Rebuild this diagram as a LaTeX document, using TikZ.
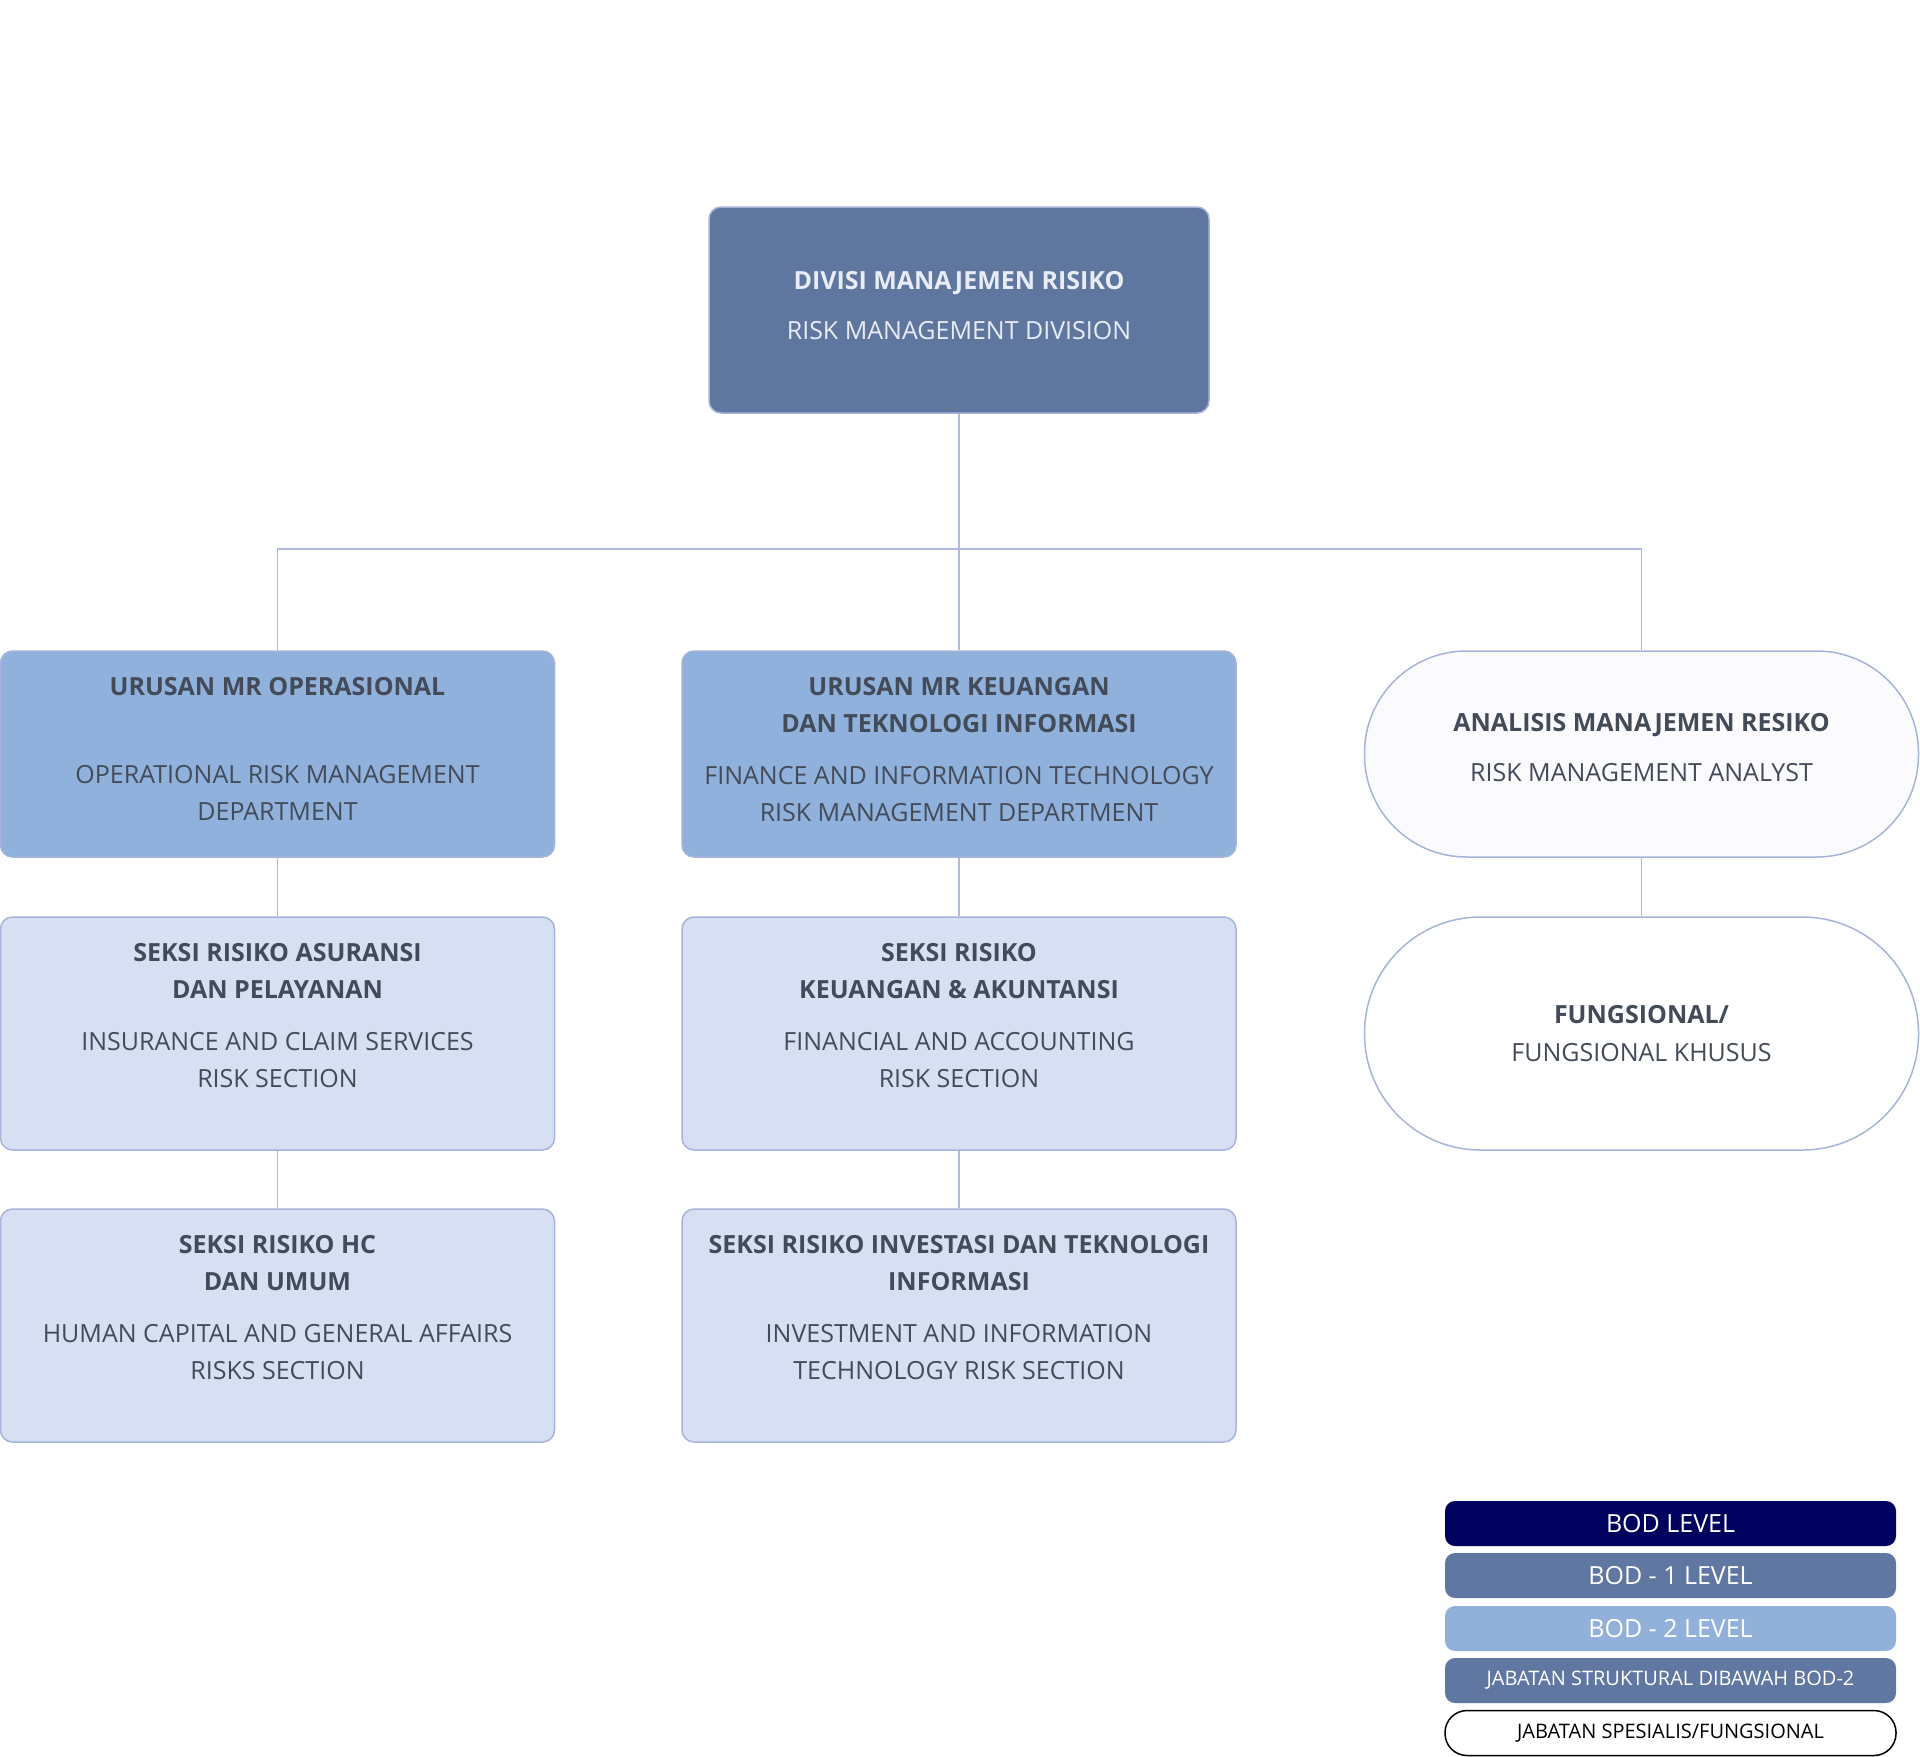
\documentclass[tikz,border=0pt]{standalone}
\usepackage{fontspec}
\setmainfont{Open Sans}
\usepackage{xcolor}
\usetikzlibrary{positioning,calc}

\definecolor{divfill}{HTML}{5F769F}
\definecolor{divtext}{HTML}{E8ECF6}
\definecolor{deptfill}{HTML}{8FB1DB}
\definecolor{secfill}{HTML}{D7E0F2}
\definecolor{pillfill}{HTML}{FBFBFD}
\definecolor{boxline}{HTML}{A7B4DA}
\definecolor{linkc}{HTML}{AEB8E0}
\definecolor{txtgray}{HTML}{434B59}
\definecolor{bodnavy}{HTML}{00005E}
\definecolor{bodone}{HTML}{6077A2}
\definecolor{bodtwo}{HTML}{91B1DB}

\tikzset{
    box/.style={draw=boxline, line width=0.75pt, rounded corners=6pt, inner sep=0pt},
    divbox/.style={box, fill=divfill, minimum width=250pt, minimum height=103pt},
    deptbox/.style={box, fill=deptfill, minimum width=277pt, minimum height=103pt},
    secbox/.style={box, fill=secfill, minimum width=277pt, minimum height=116.5pt},
    fnpill/.style={box, fill=pillfill, minimum width=277pt, minimum height=103pt, rounded corners=51pt},
    fnpillbig/.style={box, fill=white, minimum width=277pt, minimum height=116.5pt, rounded corners=58pt},
    txt/.style={align=center, inner sep=0pt, text=txtgray, font=\fontsize{12.5}{18.5}\selectfont},
    link/.style={draw=linkc, line width=0.75pt},
    legbar/.style={rounded corners=5pt, minimum width=225.5pt, minimum height=22.5pt, inner sep=0pt, text=white},
    legbig/.style={legbar, font=\fontsize{12.5}{15}\selectfont},
    legsmall/.style={legbar, font=\fontsize{10}{12}\selectfont}
}

\begin{document}
\begin{tikzpicture}[x=0.5pt, y=-0.5pt]
    \useasboundingbox (0,0) rectangle (1920,1756);

    % boxes
    \node[divbox] (div) at (959,310) {};
    \node[deptbox] (ops) at (277.5,754) {};
    \node[deptbox] (ktl) at (959,754) {};
    \node[fnpill] (anl) at (1641.5,754) {};
    \node[secbox] (asr) at (277.5,1033.5) {};
    \node[secbox] (kak) at (959,1033.5) {};
    \node[fnpillbig, txt] (fng) at (1641.5,1033.5) {\textbf{FUNGSIONAL/}\\[0.5pt]FUNGSIONAL KHUSUS};
    \node[secbox] (hcu) at (277.5,1325.5) {};
    \node[secbox] (iti) at (959,1325.5) {};

    % texts
    \node[txt, text=divtext, below=32.5pt of div.north] (divT) {\textbf{DIVISI MANAJEMEN RISIKO}\\[6.5pt]RISK MANAGEMENT DIVISION};
    \node[txt, below=13.5pt of ops.north] (opsT) {\textbf{URUSAN MR OPERASIONAL}\\[25.5pt]OPERATIONAL RISK MANAGEMENT\\DEPARTMENT};
    \node[txt, below=13.5pt of ktl.north] (ktlT) {\textbf{URUSAN MR KEUANGAN}\\\textbf{DAN TEKNOLOGI INFORMASI}\\[7.25pt]FINANCE AND INFORMATION TECHNOLOGY\\RISK MANAGEMENT DEPARTMENT};
    \node[txt, below=31.5pt of anl.north] (anlT) {\textbf{ANALISIS MANAJEMEN RESIKO}\\[6.5pt]RISK MANAGEMENT ANALYST};
    \node[txt, below=13.5pt of asr.north] (asrT) {\textbf{SEKSI RISIKO ASURANSI}\\\textbf{DAN PELAYANAN}\\[7.25pt]INSURANCE AND CLAIM SERVICES\\RISK SECTION};
    \node[txt, below=13.5pt of kak.north] (kakT) {\textbf{SEKSI RISIKO}\\\textbf{KEUANGAN \& AKUNTANSI}\\[7.25pt]FINANCIAL AND ACCOUNTING\\RISK SECTION};
    \node[txt, below=13.5pt of hcu.north] (hcuT) {\textbf{SEKSI RISIKO HC}\\\textbf{DAN UMUM}\\[7.25pt]HUMAN CAPITAL AND GENERAL AFFAIRS\\RISKS SECTION};
    \node[txt, below=13.5pt of iti.north] (itiT) {\textbf{SEKSI RISIKO INVESTASI DAN TEKNOLOGI}\\\textbf{INFORMASI}\\[7.25pt]INVESTMENT AND INFORMATION\\TECHNOLOGY RISK SECTION};

    % connectors
    \coordinate (bus) at (0,549);
    \draw[link] (div) -- (ktl);
    \draw[link] (ops.north) -- (ops.north |- bus) -- (anl.north |- bus) -- (anl.north);
    \draw[link] (ops) -- (asr);
    \draw[link] (asr) -- (hcu);
    \draw[link] (ktl) -- (kak);
    \draw[link] (kak) -- (iti);
    \draw[link] (anl) -- (fng);

    % legend
    \node[legbig, fill=bodnavy] (leg1) at (1670.5,1523.5) {BOD LEVEL};
    \node[legbig, fill=bodone] (leg2) at (1670.5,1575.5) {BOD - 1 LEVEL};
    \node[legbig, fill=bodtwo] (leg3) at (1670.5,1628.5) {BOD - 2 LEVEL};
    \node[legsmall, fill=bodone] (leg4) at (1670.5,1680.5) {JABATAN STRUKTURAL DIBAWAH BOD-2};
    \node[legsmall, draw=black, line width=0.75pt, fill=white, text=black, rounded corners=11pt] (leg5) at (1670.5,1733) {JABATAN SPESIALIS/FUNGSIONAL};
\end{tikzpicture}
\end{document}
